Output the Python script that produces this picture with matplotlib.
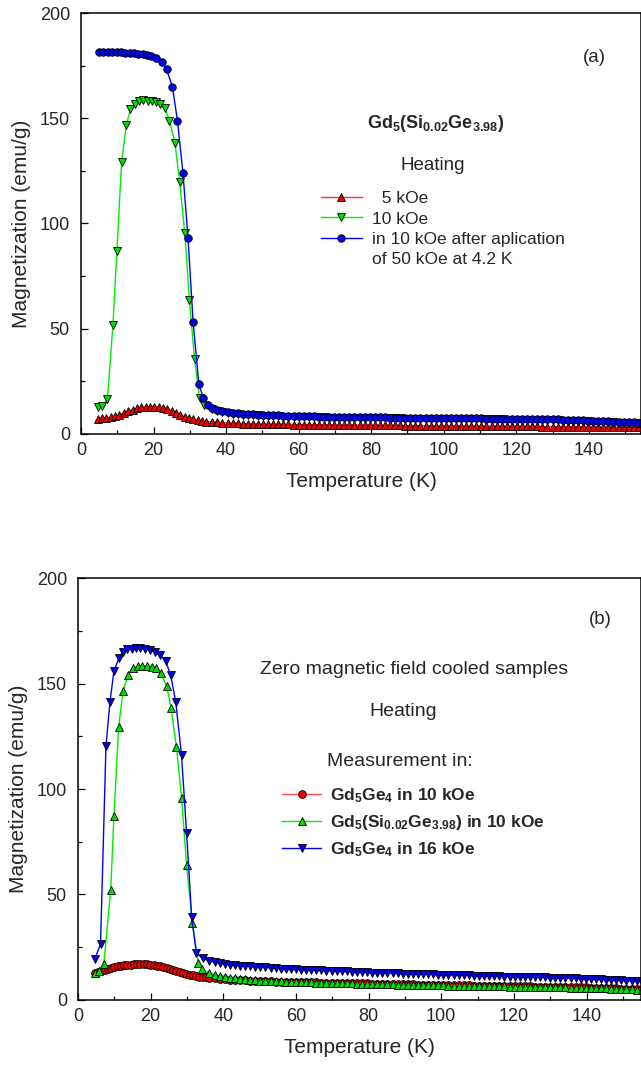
import matplotlib
matplotlib.use("Agg")
import matplotlib.pyplot as plt
from matplotlib.ticker import MultipleLocator

plt.rcParams['font.family'] = ['Liberation Sans', 'DejaVu Sans']
plt.rcParams['mathtext.fontset'] = 'custom'
plt.rcParams['mathtext.rm'] = 'Liberation Sans'
plt.rcParams['mathtext.it'] = 'Liberation Sans:italic'
plt.rcParams['mathtext.bf'] = 'Liberation Sans:bold'

# ---------------- shared high-temperature grid (K) ----------------
T_high = [36.2, 37.6, 39.0, 40.4, 41.8, 43.2, 44.6, 46.0, 47.4, 48.8,
          50.2, 51.6, 53.0, 54.4, 55.8, 57.2, 58.6, 60.0, 61.4, 62.8,
          64.2, 65.6, 67.0, 68.4, 69.8, 71.2, 72.6, 74.0, 75.4, 76.8,
          78.2, 79.6, 81.0, 82.4, 83.8, 85.2, 86.6, 88.0, 89.4, 90.8,
          92.2, 93.6, 95.0, 96.4, 97.8, 99.2, 100.6, 102.0, 103.4, 104.8,
          106.2, 107.6, 109.0, 110.4, 111.8, 113.2, 114.6, 116.0, 117.4, 118.8,
          120.2, 121.6, 123.0, 124.4, 125.8, 127.2, 128.6, 130.0, 131.4, 132.8,
          134.2, 135.6, 137.0, 138.4, 139.8, 141.2, 142.6, 144.0, 145.4, 146.8,
          148.2, 149.6, 151.0, 152.4, 153.8, 155.2, 156.6]

# ---------------- panel (a) ----------------
a5_T_low = [4.6, 5.8, 7.0, 8.2, 9.4, 10.6, 11.8, 13.0, 14.2, 15.4, 16.6, 17.8, 19.0,
            20.2, 21.4, 22.6, 23.8, 25.0, 26.2, 27.4, 28.6, 29.8, 31.0, 32.2, 33.4, 34.6]
a5_M_low = [7.3, 7.4, 7.6, 7.9, 8.4, 9.1, 9.9, 10.8, 11.6, 12.2, 12.6, 12.9, 13.0,
            13.0, 12.8, 12.4, 11.8, 11.0, 10.0, 9.1, 8.3, 7.6, 7.0, 6.6, 6.2, 5.9]
a5_M_high = [5.7, 5.5, 5.3, 5.2, 5.1, 5.0, 4.9, 4.9, 4.8, 4.8,
             4.7, 4.7, 4.7, 4.6, 4.6, 4.6, 4.5, 4.5, 4.5, 4.5,
             4.4, 4.4, 4.4, 4.4, 4.3, 4.3, 4.3, 4.3, 4.3, 4.2,
             4.2, 4.2, 4.2, 4.2, 4.1, 4.1, 4.1, 4.1, 4.0, 4.0,
             4.0, 4.0, 4.0, 3.9, 3.9, 3.9, 3.9, 3.9, 3.8, 3.8,
             3.8, 3.8, 3.8, 3.8, 3.7, 3.7, 3.7, 3.7, 3.7, 3.7,
             3.6, 3.6, 3.6, 3.6, 3.6, 3.5, 3.5, 3.5, 3.5, 3.5,
             3.4, 3.4, 3.4, 3.4, 3.3, 3.3, 3.3, 3.3, 3.2, 3.2,
             3.2, 3.2, 3.1, 3.1, 3.1, 3.0, 3.0]

a10_T_low = [4.6, 5.9, 7.3, 8.8, 9.9, 11.2, 12.5, 13.6, 14.8, 16.1, 17.2, 18.5,
             19.7, 20.7, 21.8, 23.1, 24.4, 25.9, 27.2, 28.6, 29.9, 31.3, 32.7, 34.0]
a10_M_low = [12.6, 13.2, 16.7, 51.7, 87.0, 129.3, 146.7, 154.2, 157.0, 158.3, 158.6, 158.4,
             158.2, 157.8, 156.7, 154.9, 148.8, 138.3, 119.8, 95.6, 63.6, 35.6, 17.2, 14.0]
a10_M_high = [12.0, 11.1, 10.4, 9.9, 9.6, 9.4, 9.2, 9.0, 8.9, 8.8,
              8.7, 8.6, 8.5, 8.4, 8.3, 8.2, 8.2, 8.1, 8.1, 8.0,
              8.0, 7.9, 7.9, 7.8, 7.8, 7.8, 7.7, 7.7, 7.7, 7.6,
              7.6, 7.6, 7.5, 7.5, 7.5, 7.4, 7.4, 7.4, 7.3, 7.3,
              7.3, 7.3, 7.2, 7.2, 7.2, 7.2, 7.1, 7.1, 7.1, 7.1,
              7.0, 7.0, 7.0, 7.0, 6.9, 6.9, 6.9, 6.9, 6.8, 6.8,
              6.8, 6.8, 6.7, 6.7, 6.7, 6.6, 6.6, 6.5, 6.5, 6.4,
              6.4, 6.3, 6.2, 6.1, 6.0, 5.9, 5.8, 5.7, 5.6, 5.5,
              5.4, 5.3, 5.2, 5.1, 5.0, 4.9, 4.8]

a50_T_low = [5.0, 6.2, 7.4, 8.6, 9.8, 11.0, 12.2, 13.4, 14.6, 15.8, 17.0, 18.2,
             19.4, 20.8, 22.3, 23.6, 25.2, 26.6, 28.1, 29.5, 30.9, 32.5, 33.7, 35.0]
a50_M_low = [181.6, 181.6, 181.5, 181.5, 181.4, 181.3, 181.2, 181.0, 180.8, 180.6, 180.3, 180.0,
             179.6, 178.5, 176.6, 173.2, 165.0, 148.8, 124.1, 93.3, 53.4, 23.6, 17.3, 13.8]
a50_M_high = [12.4, 11.5, 10.8, 10.3, 10.0, 9.8, 9.6, 9.4, 9.3, 9.2,
              9.1, 9.0, 8.9, 8.8, 8.7, 8.6, 8.6, 8.5, 8.5, 8.4,
              8.4, 8.3, 8.3, 8.2, 8.2, 8.2, 8.1, 8.1, 8.1, 8.0,
              8.0, 8.0, 7.9, 7.9, 7.9, 7.8, 7.8, 7.8, 7.7, 7.7,
              7.7, 7.7, 7.6, 7.6, 7.6, 7.6, 7.5, 7.5, 7.5, 7.5,
              7.4, 7.4, 7.4, 7.4, 7.3, 7.3, 7.3, 7.3, 7.2, 7.2,
              7.2, 7.2, 7.1, 7.1, 7.1, 7.0, 7.0, 6.9, 6.9, 6.8,
              6.8, 6.7, 6.6, 6.5, 6.4, 6.3, 6.2, 6.1, 6.0, 5.9,
              5.8, 5.7, 5.6, 5.5, 5.4, 5.3, 5.2]

labels_a = ["  5 kOe", "10 kOe", "in 10 kOe after aplication"]

# ---------------- panel (b) ----------------
bR_T_low = [4.6, 5.5, 6.4, 7.3, 8.2, 9.1, 10.0, 10.9, 11.8, 12.7, 13.6, 14.5, 15.4, 16.3,
            17.2, 18.1, 19.0, 19.9, 20.8, 21.7, 22.6, 23.5, 24.4, 25.3, 26.2, 27.1, 28.0,
            28.9, 29.8, 30.7, 31.6, 32.5, 33.4, 34.3, 35.2]
bR_M_low = [12.5, 13.0, 13.5, 14.0, 14.5, 15.0, 15.4, 15.8, 16.1, 16.4, 16.6, 16.7, 16.8, 16.9,
            16.9, 16.9, 16.8, 16.6, 16.4, 16.1, 15.8, 15.4, 15.0, 14.6, 14.1, 13.6, 13.1,
            12.7, 12.3, 11.9, 11.6, 11.3, 11.0, 10.8, 10.6]
bR_M_high = [10.4, 10.1, 9.9, 9.7, 9.5, 9.4, 9.3, 9.2, 9.1, 9.0,
             8.9, 8.8, 8.7, 8.6, 8.6, 8.5, 8.4, 8.4, 8.3, 8.3,
             8.2, 8.2, 8.1, 8.1, 8.0, 8.0, 7.9, 7.9, 7.8, 7.8,
             7.7, 7.7, 7.6, 7.6, 7.5, 7.5, 7.5, 7.4, 7.4, 7.3,
             7.3, 7.2, 7.2, 7.1, 7.1, 7.0, 7.0, 6.9, 6.9, 6.8,
             6.8, 6.8, 6.7, 6.7, 6.6, 6.6, 6.5, 6.5, 6.5, 6.4,
             6.4, 6.3, 6.3, 6.3, 6.2, 6.2, 6.1, 6.1, 6.1, 6.0,
             6.0, 5.9, 5.9, 5.8, 5.8, 5.7, 5.7, 5.6, 5.6, 5.5,
             5.4, 5.3, 5.2, 5.1, 5.0, 4.9, 4.8]

bG_T_low = [4.6, 5.8, 7.1, 9.0, 9.9, 11.2, 12.4, 13.8, 15.1, 16.4, 17.7, 19.1,
            20.3, 21.4, 22.8, 24.4, 25.6, 27.1, 28.5, 29.9, 31.5, 33.1, 34.2]
bG_M_low = [12.8, 13.8, 16.8, 52.1, 87.2, 129.6, 146.7, 154.1, 157.6, 158.4, 158.5, 158.4,
            158.0, 157.3, 154.9, 148.9, 138.6, 120.1, 95.9, 63.9, 36.3, 17.3, 14.4]
bG_M_high = [12.6, 11.9, 11.3, 10.9, 10.5, 10.2, 9.9, 9.7, 9.5, 9.3,
             9.1, 9.0, 8.9, 8.8, 8.7, 8.6, 8.5, 8.4, 8.3, 8.2,
             8.2, 8.1, 8.0, 8.0, 7.9, 7.8, 7.8, 7.7, 7.7, 7.6,
             7.6, 7.5, 7.5, 7.4, 7.4, 7.3, 7.3, 7.2, 7.2, 7.1,
             7.1, 7.0, 7.0, 6.9, 6.9, 6.8, 6.8, 6.7, 6.7, 6.6,
             6.6, 6.5, 6.5, 6.5, 6.4, 6.4, 6.3, 6.3, 6.3, 6.2,
             6.2, 6.1, 6.1, 6.1, 6.0, 6.0, 5.9, 5.9, 5.9, 5.8,
             5.8, 5.7, 5.7, 5.6, 5.6, 5.5, 5.5, 5.4, 5.4, 5.3,
             5.2, 5.1, 5.0, 4.9, 4.8, 4.7, 4.6]

bB_T_low = [4.6, 6.2, 7.7, 8.8, 9.9, 11.3, 12.4, 13.6, 14.8, 16.0, 17.2, 18.4,
            19.7, 21.2, 22.7, 24.1, 25.5, 26.9, 28.5, 29.9, 31.3, 32.6, 34.3]
bB_M_low = [19.2, 26.4, 120.4, 141.4, 156.0, 162.3, 165.2, 166.3, 166.6, 166.7, 166.7, 166.5,
            166.0, 164.9, 163.5, 160.9, 154.1, 141.4, 116.1, 79.0, 39.1, 22.0, 19.6]
bB_M_high = [18.4, 17.9, 17.4, 17.0, 16.7, 16.4, 16.2, 16.0, 15.8, 15.6,
             15.4, 15.3, 15.1, 15.0, 14.8, 14.7, 14.6, 14.4, 14.3, 14.2,
             14.1, 14.0, 13.9, 13.8, 13.7, 13.6, 13.5, 13.4, 13.3, 13.2,
             13.1, 13.0, 12.9, 12.8, 12.8, 12.7, 12.6, 12.5, 12.4, 12.4,
             12.3, 12.2, 12.1, 12.1, 12.0, 11.9, 11.8, 11.8, 11.7, 11.6,
             11.6, 11.5, 11.4, 11.4, 11.3, 11.2, 11.2, 11.1, 11.0, 11.0,
             10.9, 10.9, 10.8, 10.7, 10.7, 10.6, 10.6, 10.5, 10.4, 10.4,
             10.3, 10.2, 10.1, 10.0, 9.9, 9.8, 9.7, 9.6, 9.5, 9.4,
             9.3, 9.2, 9.0, 8.9, 8.8, 8.6, 8.5]

labels_b = ["Gd$_\\mathbf{5}$Ge$_\\mathbf{4}$ in 10 kOe",
            "Gd$_\\mathbf{5}$(Si$_\\mathbf{0.02}$Ge$_\\mathbf{3.98}$) in 10 kOe",
            "Gd$_\\mathbf{5}$Ge$_\\mathbf{4}$ in 16 kOe"]

# ---------------- figure ----------------
W, H = 641, 1066
fig = plt.figure(figsize=(W / 100, H / 100), dpi=100)
TXT = '#262626'


def fx(px):
    return px / W


def fy(py):
    return 1 - py / H


def style_axes(ax, xmax):
    ax.set_xlim(0, xmax)
    ax.set_ylim(0, 200)
    ax.xaxis.set_major_locator(MultipleLocator(20))
    ax.xaxis.set_minor_locator(MultipleLocator(10))
    ax.yaxis.set_major_locator(MultipleLocator(50))
    ax.yaxis.set_minor_locator(MultipleLocator(25))
    ax.tick_params(which='both', direction='in', width=0.9, colors='black',
                   labelcolor=TXT, labelsize=13)
    ax.tick_params(which='major', length=5)
    ax.tick_params(which='minor', length=3)
    ax.tick_params(axis='y', pad=8)
    ax.tick_params(axis='x', pad=6)
    for s in ax.spines.values():
        s.set_linewidth(1.1)
    ax.set_xlabel("Temperature (K)", fontsize=15, color=TXT, labelpad=9)
    ax.set_ylabel("Magnetization (emu/g)", fontsize=15, color=TXT, labelpad=6)


mk = dict(markeredgecolor='black', markeredgewidth=0.6, linewidth=1.0)

# panel (a)
axa = fig.add_axes([fx(81), fy(434), 1 - fx(81), (434 - 13) / H])
h1, = axa.plot(a5_T_low + T_high, a5_M_low + a5_M_high, marker='^', ms=5.2,
               color='#ff3030', markerfacecolor='#ee0000', **mk)
h2, = axa.plot(a10_T_low + T_high, a10_M_low + a10_M_high, marker='v', ms=5.2,
               color='#00ee00', markerfacecolor='#00dd00', **mk)
h3, = axa.plot(a50_T_low + T_high, a50_M_low + a50_M_high, marker='o', ms=5.4,
               color='#0000ff', markerfacecolor='#0000ee', **mk)
style_axes(axa, 154.4)
axa.legend([h1, h2, h3], labels_a, loc='upper left',
           bbox_to_anchor=(fx(321), fy(191)), bbox_transform=fig.transFigure,
           frameon=False, fontsize=12.5, handlelength=2.36, handletextpad=0.58,
           labelspacing=0.3, borderpad=0, borderaxespad=0, numpoints=1,
           labelcolor=TXT)
fig.text(fx(372), fy(259), "of 50 kOe at 4.2 K", fontsize=12.5, color=TXT,
         ha='left', va='center')
fig.text(fx(594), fy(57), "(a)", fontsize=13.5, color=TXT, ha='center', va='center')
fig.text(fx(367), fy(124), "Gd$_\\mathbf{5}$(Si$_\\mathbf{0.02}$Ge$_\\mathbf{3.98}$)",
         fontsize=13, fontweight='bold', color=TXT, ha='left', va='center')
fig.text(fx(433), fy(165), "Heating", fontsize=13.5, color=TXT, ha='center', va='center')

# panel (b)
axb = fig.add_axes([fx(78), fy(999.7), 1 - fx(78), (999.7 - 578.3) / H])
g1, = axb.plot(bR_T_low + T_high, bR_M_low + bR_M_high, marker='o', ms=5.6,
               color='#ff5050', markerfacecolor='#ee0000', **mk)
g2, = axb.plot(bG_T_low + T_high, bG_M_low + bG_M_high, marker='^', ms=5.2,
               color='#00ee00', markerfacecolor='#00dd00', **mk)
g3, = axb.plot(bB_T_low + T_high, bB_M_low + bB_M_high, marker='v', ms=5.2,
               color='#0000ff', markerfacecolor='#0000ee', **mk)
style_axes(axb, 155.0)
axb.legend([g1, g2, g3], labels_b, loc='upper left',
           bbox_to_anchor=(fx(282), fy(786)), bbox_transform=fig.transFigure,
           frameon=False, prop={'size': 12.5, 'weight': 'bold'},
           handlelength=2.25, handletextpad=0.5, labelspacing=0.47,
           borderpad=0, borderaxespad=0, numpoints=1, labelcolor=TXT)
fig.text(fx(600), fy(620), "(b)", fontsize=13.5, color=TXT, ha='center', va='center')
fig.text(fx(414), fy(669), "Zero magnetic field cooled samples", fontsize=14,
         color=TXT, ha='center', va='center')
fig.text(fx(403), fy(712), "Heating", fontsize=14, color=TXT, ha='center', va='center')
fig.text(fx(400), fy(761), "Measurement in:", fontsize=14, color=TXT,
         ha='center', va='center')

fig.savefig("out.png", dpi=100)
